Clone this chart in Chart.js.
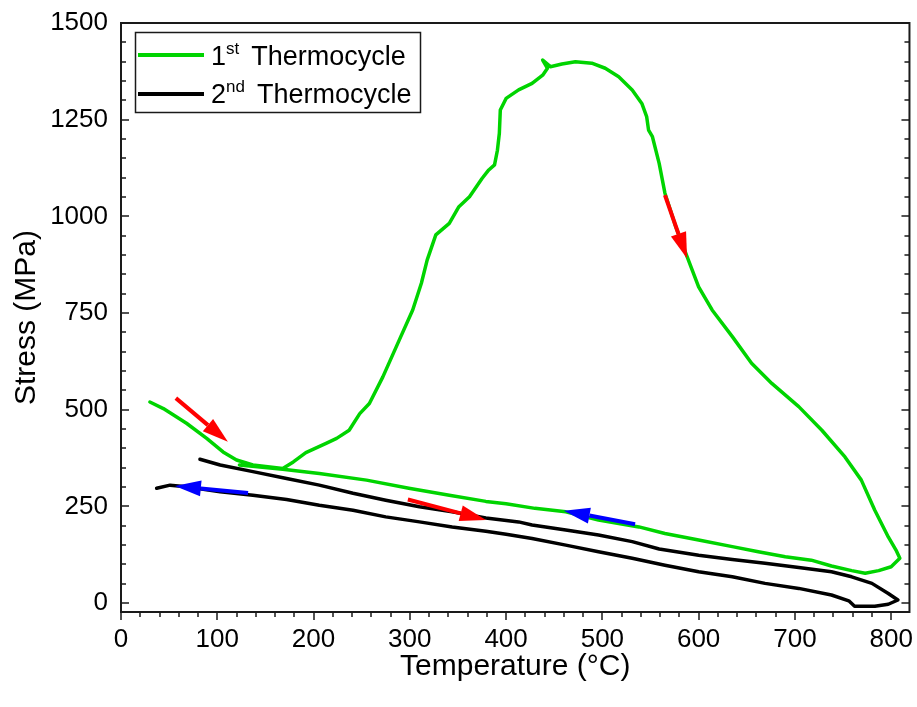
<!DOCTYPE html>
<html>
<head>
<meta charset="utf-8">
<title>Stress vs Temperature</title>
<script src="https://cdn.jsdelivr.net/npm/chart.js@4.4.0/dist/chart.umd.min.js"></script>
<style>
  body { margin: 0; background: #fff; }
  #wrap { width: 917px; height: 707px; }
</style>
</head>
<body>
<div id="wrap"><canvas id="chart" width="917" height="707"></canvas></div>
<script>
// 1st thermocycle: heating over the peak, then cooling back
const cycle1Temp = [30, 44, 68, 89, 106, 120, 137, 168, 179, 192, 213, 224, 237, 248, 258, 272, 289, 303,
  312, 318, 327, 341, 351, 362, 375, 382, 388, 391, 393, 394, 400, 413, 427, 438, 443, 438, 446, 458,
  472, 489, 503, 517, 531, 541, 546, 548, 552, 559, 565, 576, 588, 600, 614, 635, 655, 676, 704, 728,
  752, 769, 783, 797, 805, 809, 800, 787, 773, 759, 738, 717, 690, 662, 635, 600, 565, 538, 496, 462,
  430, 400, 379, 341, 299, 255, 206, 168, 123];
const cycle1Stress = [520, 503, 465, 426, 391, 370, 357, 348, 365, 389, 413, 426, 447, 490, 516, 585, 680, 758,
  827, 887, 952, 982, 1025, 1051, 1098, 1120, 1133, 1171, 1215, 1275, 1305, 1327, 1344, 1365, 1383, 1404, 1387, 1394,
  1400, 1396, 1383, 1361, 1327, 1292, 1258, 1223, 1206, 1137, 1060, 975, 896, 818, 758, 689, 620, 568, 508, 447,
  378, 318, 240, 171, 137, 116, 94, 84, 77, 84, 96, 111, 120, 133, 146, 163, 180, 197, 215, 236,
  245, 257, 263, 279, 297, 318, 335, 346, 357];

// 2nd thermocycle: heating along the upper branch, cooling along the lower one
const cycle2Temp = [82, 103, 137, 172, 206, 241, 275, 310, 344, 379, 413, 427, 462, 496, 531, 559, 600, 635,
  669, 704, 738, 759, 780, 797, 807, 797, 783, 762, 756, 738, 704, 669, 635, 600, 565, 531, 496, 462,
  427, 400, 379, 344, 310, 275, 241, 206, 172, 137, 103, 68, 51, 37];
const cycle2Stress = [372, 357, 340, 322, 305, 284, 266, 249, 236, 220, 210, 202, 189, 176, 159, 140, 124, 113,
  103, 92, 81, 68, 51, 25, 8, -3, -8, -8, 6, 21, 38, 51, 68, 81, 98, 116, 133, 150,
  167, 178, 186, 197, 210, 223, 240, 253, 268, 279, 288, 301, 305, 297];

const seriesNames = ['1st Thermocycle', '2nd Thermocycle'];
const xTicks = [0, 100, 200, 300, 400, 500, 600, 700, 800];
const yTicks = [0, 250, 500, 750, 1000, 1250, 1500];

// direction arrows (temperature / stress of tail and tip)
const arrowTailT = [57, 565, 298, 534, 132];
const arrowTailS = [530, 1055, 268, 204, 285];
const arrowTipT = [111, 588, 379, 460, 56];
const arrowTipS = [417, 891, 215, 239, 303];
const arrowKind = ['heat', 'heat', 'heat', 'cool', 'cool'];

const GREEN = '#00d400';
const FONT = 'Arial, "Liberation Sans", sans-serif';

function toPoints(xs, ys) {
    return xs.map((x, i) => ({ x: x, y: ys[i] }));
}

function drawArrow(ctx, x1, y1, x2, y2, color) {
    const ang = Math.atan2(y2 - y1, x2 - x1);
    const head = 26, half = 8;
    const bx = x2 - head * Math.cos(ang), by = y2 - head * Math.sin(ang);
    ctx.strokeStyle = color;
    ctx.fillStyle = color;
    ctx.lineWidth = 4;
    ctx.beginPath();
    ctx.moveTo(x1, y1);
    ctx.lineTo(bx, by);
    ctx.stroke();
    ctx.beginPath();
    ctx.moveTo(x2, y2);
    ctx.lineTo(bx + half * Math.sin(ang), by - half * Math.cos(ang));
    ctx.lineTo(bx - half * Math.sin(ang), by + half * Math.cos(ang));
    ctx.closePath();
    ctx.fill();
}

// frame, inward ticks, arrows and the legend with superscripts
const decor = {
    id: 'decor',
    afterDatasetsDraw(chart) {
        const { ctx, chartArea: a, scales: { x, y } } = chart;
        ctx.save();

        arrowTailT.forEach((t, i) => {
            drawArrow(ctx, x.getPixelForValue(t), y.getPixelForValue(arrowTailS[i]),
                x.getPixelForValue(arrowTipT[i]), y.getPixelForValue(arrowTipS[i]),
                arrowKind[i] === 'heat' ? '#ff0000' : '#0000ff');
        });

        ctx.strokeStyle = '#1a1a1a';
        ctx.lineWidth = 2;
        ctx.strokeRect(a.left, a.top, a.right - a.left, a.bottom - a.top);

        ctx.lineWidth = 1.5;
        ctx.beginPath();
        for (let v = 0; v <= yTicks[yTicks.length - 1]; v += 50) {
            const py = Math.round(y.getPixelForValue(v));
            const len = v % 250 === 0 ? 8 : 5;
            ctx.moveTo(a.left, py); ctx.lineTo(a.left + len, py);
            ctx.moveTo(a.right, py); ctx.lineTo(a.right - len, py);
        }
        for (let v = 0; v <= x.max; v += 20) {
            const px = Math.round(x.getPixelForValue(v));
            const len = v % 100 === 0 ? 8 : 5;
            ctx.moveTo(px, a.bottom); ctx.lineTo(px, a.bottom + len);
        }
        ctx.stroke();

        // legend
        const lx = 135.5, ly = 32.5, lw = 285, lh = 80;
        ctx.fillStyle = '#fff';
        ctx.fillRect(lx, ly, lw, lh);
        ctx.strokeStyle = '#1a1a1a';
        ctx.lineWidth = 1.5;
        ctx.strokeRect(lx, ly, lw, lh);

        const rows = [
            { color: GREEN, lead: '1', sup: 'st', rest: 'Thermocycle', ly: 55, base: 65 },
            { color: '#000', lead: '2', sup: 'nd', rest: 'Thermocycle', ly: 94, base: 103 }
        ];
        rows.forEach(r => {
            ctx.strokeStyle = r.color;
            ctx.lineWidth = 4;
            ctx.beginPath();
            ctx.moveTo(138, r.ly); ctx.lineTo(204, r.ly);
            ctx.stroke();
            ctx.fillStyle = '#000';
            ctx.textBaseline = 'alphabetic';
            ctx.textAlign = 'left';
            let cx = 211;
            ctx.font = '27px ' + FONT;
            ctx.fillText(r.lead, cx, r.base);
            cx += ctx.measureText(r.lead).width;
            ctx.font = '17px ' + FONT;
            ctx.fillText(r.sup, cx, r.base - 11);
            cx += ctx.measureText(r.sup).width + 12;
            ctx.font = '27px ' + FONT;
            ctx.fillText(r.rest, cx, r.base);
        });

        ctx.restore();
    }
};

Chart.defaults.color = '#000';

new Chart(document.getElementById('chart'), {
    type: 'line',
    data: {
        datasets: [
            { label: seriesNames[0], data: toPoints(cycle1Temp, cycle1Stress), borderColor: GREEN, borderWidth: 3.5 },
            { label: seriesNames[1], data: toPoints(cycle2Temp, cycle2Stress), borderColor: '#000', borderWidth: 3.5 }
        ]
    },
    options: {
        responsive: false,
        animation: false,
        devicePixelRatio: 1,
        elements: { point: { radius: 0 }, line: { tension: 0, borderJoinStyle: 'round', borderCapStyle: 'round' } },
        layout: { padding: { top: 23, right: 6, left: 0, bottom: 0 } },
        plugins: { legend: { display: false }, tooltip: { enabled: false } },
        scales: {
            x: {
                type: 'linear',
                min: 0,
                max: 819,
                grid: { display: false },
                border: { display: false },
                afterBuildTicks: s => { s.ticks = xTicks.map(v => ({ value: v })); },
                afterFit: s => { s.height = 95; },
                ticks: { autoSkip: false, maxRotation: 0, padding: 4, font: { family: FONT, size: 26 }, callback: v => String(v) },
                title: { display: true, text: 'Temperature (°C)', font: { family: FONT, size: 30, lineHeight: 1.2 }, padding: { top: 0, bottom: 22 } }
            },
            y: {
                type: 'linear',
                min: -23,
                max: 1500,
                grid: { display: false },
                border: { display: false },
                afterBuildTicks: s => { s.ticks = yTicks.map(v => ({ value: v })); },
                afterFit: s => { s.width = 121; },
                ticks: { padding: 5, font: { family: FONT, size: 26 }, callback: v => String(v) },
                title: { display: true, text: 'Stress (MPa)', font: { family: FONT, size: 30, lineHeight: 1.2 }, padding: { top: 9, bottom: 0 } }
            }
        }
    },
    plugins: [decor]
});
</script>
</body>
</html>
